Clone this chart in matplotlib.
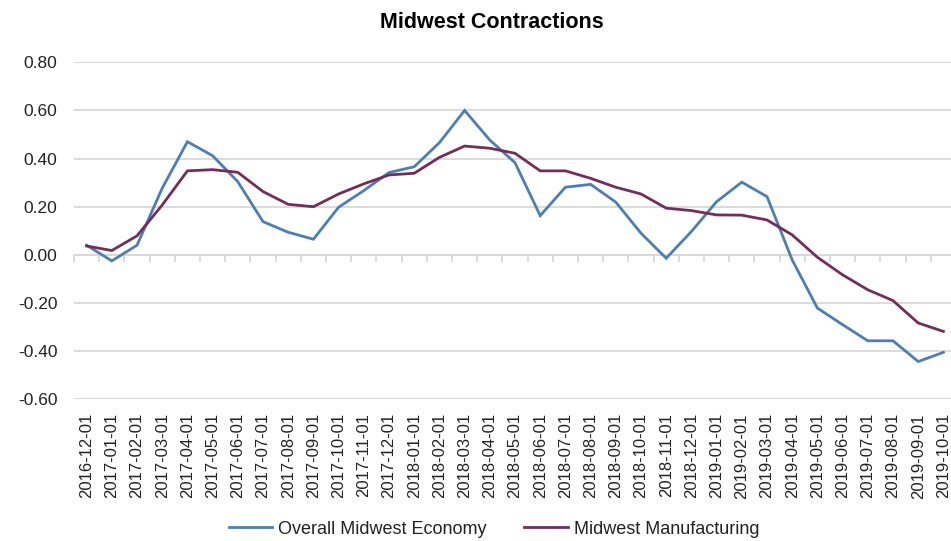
import matplotlib
matplotlib.use("Agg")
import matplotlib.pyplot as plt
import numpy as np

dates = ["2016-12-01", "2017-01-01", "2017-02-01", "2017-03-01", "2017-04-01", "2017-05-01",
         "2017-06-01", "2017-07-01", "2017-08-01", "2017-09-01", "2017-10-01", "2017-11-01",
         "2017-12-01", "2018-01-01", "2018-02-01", "2018-03-01", "2018-04-01", "2018-05-01",
         "2018-06-01", "2018-07-01", "2018-08-01", "2018-09-01", "2018-10-01", "2018-11-01",
         "2018-12-01", "2019-01-01", "2019-02-01", "2019-03-01", "2019-04-01", "2019-05-01",
         "2019-06-01", "2019-07-01", "2019-08-01", "2019-09-01", "2019-10-01"]

overall = [0.040, -0.025, 0.040, 0.277, 0.470, 0.412, 0.304, 0.138, 0.094, 0.065,
           0.198, 0.267, 0.342, 0.366, 0.466, 0.600, 0.477, 0.383, 0.163, 0.281,
           0.293, 0.219, 0.090, -0.014, 0.097, 0.221, 0.302, 0.242, -0.021, -0.221,
           -0.290, -0.357, -0.357, -0.443, -0.405]

manufacturing = [0.037, 0.018, 0.079, 0.207, 0.349, 0.354, 0.343, 0.263, 0.210, 0.200,
                 0.253, 0.295, 0.332, 0.339, 0.405, 0.452, 0.443, 0.422, 0.349, 0.349,
                 0.318, 0.281, 0.253, 0.194, 0.184, 0.166, 0.165, 0.145, 0.083, -0.010,
                 -0.083, -0.145, -0.190, -0.283, -0.318]

y_ticks = [0.80, 0.60, 0.40, 0.20, 0.00, -0.20, -0.40, -0.60]
y_labels = ["0.80", "0.60", "0.40", "0.20", "0.00", "-0.20", "-0.40", "-0.60"]

title = "Midwest Contractions"
series_names = ["Overall Midwest Economy", "Midwest Manufacturing"]
colors = ["#4A7EBB", "#772C58"]

plt.rcParams["font.family"] = ["Liberation Sans", "DejaVu Sans"]

fig = plt.figure(figsize=(9.51, 5.41), dpi=100)
ax = fig.add_axes([74 / 951, 1 - 399.3 / 541, (956 - 74) / 951, (399.3 - 62.3) / 541])

x = np.arange(len(dates))
l1, = ax.plot(x, overall, color=colors[0], lw=2.0, solid_joinstyle="miter", zorder=3)
l2, = ax.plot(x, manufacturing, color=colors[1], lw=2.0, solid_joinstyle="miter", zorder=3)

ax.set_xlim(-0.5, len(dates) - 0.5)
ax.set_ylim(-0.6, 0.8)
ax.set_yticks(y_ticks)
ax.set_yticklabels(y_labels, fontsize=12.5, color="#222222")
ax.grid(axis="y", color="#D9D9D9", lw=1.3, zorder=0)
ax.set_axisbelow(True)
for s in ax.spines.values():
    s.set_visible(False)
ax.tick_params(axis="y", length=0, pad=12)

ax.set_xticks(x)
ax.set_xticklabels(dates, rotation=90, fontsize=12, color="#222222")
ax.tick_params(axis="x", length=0, pad=10)

# Category axis line crossing at zero, with tick marks between categories
sec = ax.secondary_xaxis(0.6 / 1.4)
sec.set_xticks(np.arange(-0.5, len(dates), 1.0))
sec.tick_params(axis="x", length=5, width=1.3, color="#D9D9D9", labelbottom=False, direction="out")
sec.spines["bottom"].set_color("#D9D9D9")
sec.spines["bottom"].set_linewidth(1.3)

fig.text(492 / 951, 1 - 22 / 541, title, ha="center", va="center",
         fontsize=15.5, fontweight="bold", color="#000000")

fig.legend([l1, l2], series_names, loc="center", bbox_to_anchor=(494 / 951, 1 - 529 / 541),
           ncol=2, frameon=False, handlelength=2.4, handletextpad=0.33, columnspacing=2.1,
           borderpad=0.1, prop={"size": 13}, labelcolor="#222222")

fig.savefig("out.png", dpi=100)
